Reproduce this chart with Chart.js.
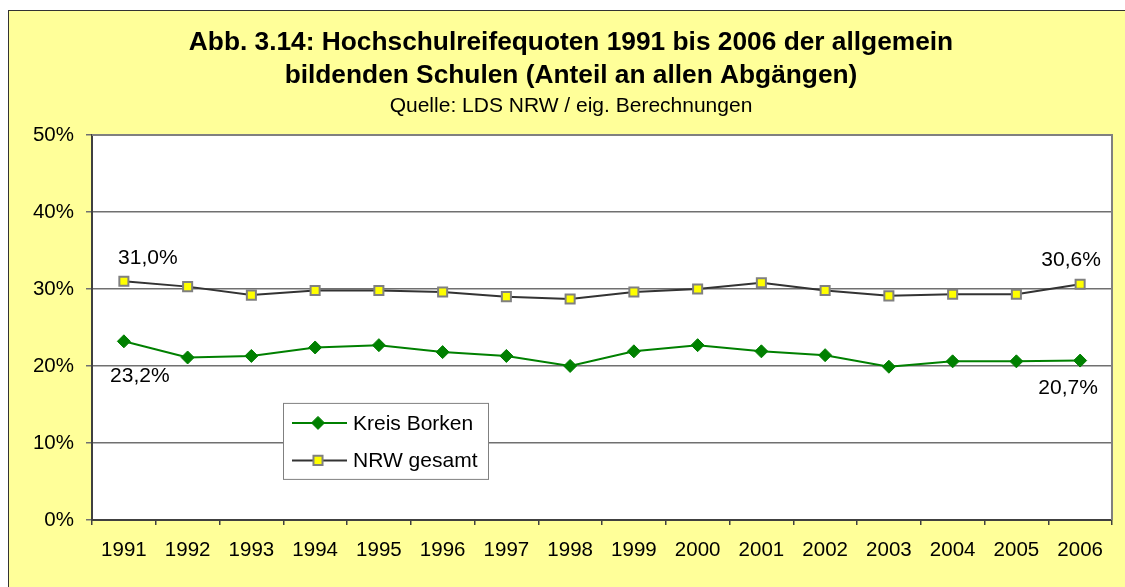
<!doctype html>
<html lang="de">
  <head>
    <meta charset="utf-8">
    <title>Hochschulreifequoten 1991 bis 2006</title>
    <style>
      html, body { margin: 0; padding: 0; background: #fff; overflow: hidden; }
      .chartBox {
        position: absolute; left: 8px; top: 10px;
        width: 1124px; height: 585px;
        background: #ffff99;
        border-left: 1px solid #333; border-top: 1px solid #333;
      }
      canvas { display: block; }
    </style>
  </head>
  <body>
    <div class="chartBox">
      <canvas id="myChart" width="1124" height="585"></canvas>
    </div>
    <script src="https://cdn.jsdelivr.net/npm/chart.js"></script>
    <script>
      // data (percent)
      const years = ['1991', '1992', '1993', '1994', '1995', '1996', '1997', '1998',
                     '1999', '2000', '2001', '2002', '2003', '2004', '2005', '2006'];
      const kreisBorken = [23.2, 21.1, 21.3, 22.4, 22.7, 21.8, 21.3, 20.0,
                           21.9, 22.7, 21.9, 21.4, 19.9, 20.6, 20.6, 20.7];
      const nrwGesamt = [31.0, 30.3, 29.2, 29.8, 29.8, 29.6, 29.0, 28.7,
                         29.6, 30.0, 30.8, 29.8, 29.1, 29.3, 29.3, 30.6];
      const yTicks = [0, 10, 20, 30, 40, 50];

      const FONT = '"Liberation Sans", Arial, sans-serif';
      Chart.defaults.font.family = FONT;
      Chart.defaults.color = '#000';

      // white plot area + grey frame on top/right
      const plotArea = {
        id: 'plotArea',
        beforeDraw(chart) {
          const { ctx, chartArea: a } = chart;
          ctx.save();
          ctx.fillStyle = '#fff';
          ctx.fillRect(a.left, a.top, a.right - a.left, a.bottom - a.top);
          ctx.restore();
        },
        beforeDatasetsDraw(chart) {
          const { ctx, chartArea: a } = chart;
          ctx.save();
          ctx.strokeStyle = '#808080';
          ctx.lineWidth = 2;
          ctx.beginPath();
          ctx.moveTo(a.left, a.top);
          ctx.lineTo(a.right, a.top);
          ctx.lineTo(a.right, a.bottom);
          ctx.stroke();
          ctx.restore();
        }
      };

      // value labels on first and last points
      const pointLabels = {
        id: 'pointLabels',
        afterDatasetsDraw(chart, args, opts) {
          const ctx = chart.ctx;
          ctx.save();
          ctx.font = '21px ' + FONT;
          ctx.fillStyle = '#000';
          ctx.textAlign = 'center';
          ctx.textBaseline = 'alphabetic';
          opts.items.forEach(it => {
            const el = chart.getDatasetMeta(it.dataset).data[it.index];
            const v = chart.data.datasets[it.dataset].data[it.index];
            ctx.fillText(v.toFixed(1).replace('.', ',') + '%', el.x + it.dx, el.y + it.dy);
          });
          ctx.restore();
        }
      };

      function drawMarker(ctx, ds, x, y) {
        ctx.save();
        ctx.fillStyle = ds.pointBackgroundColor;
        ctx.strokeStyle = ds.pointBorderColor;
        ctx.lineWidth = ds.pointBorderWidth;
        ctx.beginPath();
        const r = ds.pointRadius;
        if (ds.pointStyle === 'rectRot') {
          ctx.moveTo(x, y - r); ctx.lineTo(x + r, y); ctx.lineTo(x, y + r); ctx.lineTo(x - r, y);
        } else {
          const s = r * Math.SQRT1_2;
          ctx.rect(x - s, y - s, 2 * s, 2 * s);
        }
        ctx.closePath();
        ctx.fill();
        ctx.stroke();
        ctx.restore();
      }

      // legend box inside the plot, like the Excel original
      const boxLegend = {
        id: 'boxLegend',
        afterDraw(chart, args, opts) {
          const { ctx, chartArea: a } = chart;
          const left = a.left + opts.x, top = a.top + opts.y;
          ctx.save();
          ctx.fillStyle = '#fff';
          ctx.fillRect(left, top, opts.width, opts.height);
          ctx.strokeStyle = '#808080';
          ctx.lineWidth = 1;
          ctx.strokeRect(left + 0.5, top + 0.5, opts.width, opts.height);
          ctx.font = '21px ' + FONT;
          ctx.textBaseline = 'middle';
          ctx.textAlign = 'left';
          chart.data.datasets.forEach((ds, i) => {
            const y = top + 20 + i * 37.5;
            ctx.strokeStyle = ds.borderColor;
            ctx.lineWidth = ds.borderWidth;
            ctx.beginPath();
            ctx.moveTo(left + 9, y);
            ctx.lineTo(left + 64, y);
            ctx.stroke();
            drawMarker(ctx, ds, left + 35, y);
            ctx.fillStyle = '#000';
            ctx.fillText(ds.label, left + 70, y + 1);
          });
          ctx.restore();
        }
      };

      const data = {
        labels: years,
        datasets: [{
          label: 'Kreis Borken',
          data: kreisBorken,
          borderColor: '#008000',
          borderWidth: 2,
          pointStyle: 'rectRot',
          pointRadius: 6.5,
          pointBackgroundColor: '#008000',
          pointBorderColor: '#008000',
          pointBorderWidth: 1,
          tension: 0
        }, {
          label: 'NRW gesamt',
          data: nrwGesamt,
          borderColor: '#333333',
          borderWidth: 2,
          pointStyle: 'rect',
          pointRadius: 6.4,
          pointBackgroundColor: '#ffff00',
          pointBorderColor: '#808080',
          pointBorderWidth: 2,
          tension: 0
        }]
      };

      const config = {
        type: 'line',
        data,
        plugins: [plotArea, pointLabels, boxLegend],
        options: {
          responsive: false,
          animation: false,
          devicePixelRatio: 1,
          layout: { padding: { left: 21, right: 21, top: 0, bottom: 0 } },
          scales: {
            x: {
              offset: true,
              grid: { offset: true, drawOnChartArea: false, tickLength: 5, color: '#404040', lineWidth: 1.5 },
              border: { display: true, color: '#404040', width: 2 },
              ticks: { font: { size: 20.5 }, padding: 13, maxRotation: 0, autoSkip: false },
              afterFit(scale) { scale.height = 76; }
            },
            y: {
              min: 0,
              max: 50,
              afterBuildTicks(scale) { scale.ticks = yTicks.map(v => ({ value: v })); },
              grid: { color: '#707070', lineWidth: 1.5, tickLength: 6 },
              border: { display: true, color: '#404040', width: 2 },
              ticks: { font: { size: 20.5 }, padding: 12, callback: v => v + '%' },
              afterFit(scale) { scale.width = 62; }
            }
          },
          plugins: {
            legend: { display: false },
            tooltip: { enabled: false },
            title: {
              display: true,
              text: ['Abb. 3.14: Hochschulreifequoten 1991 bis 2006 der allgemein',
                     'bildenden Schulen (Anteil an allen Abgängen)'],
              font: { size: 26.3, weight: 'bold', lineHeight: 1.23 },
              color: '#000',
              padding: { top: 16, bottom: 0 }
            },
            subtitle: {
              display: true,
              text: 'Quelle: LDS NRW / eig. Berechnungen',
              font: { size: 21, lineHeight: 1.2 },
              color: '#000',
              padding: { top: 1.5, bottom: 16.5 }
            },
            pointLabels: {
              items: [
                { dataset: 1, index: 0, dx: 24, dy: -17 },
                { dataset: 0, index: 0, dx: 16, dy: 41 },
                { dataset: 1, index: 15, dx: -9, dy: -18 },
                { dataset: 0, index: 15, dx: -12, dy: 33 }
              ]
            },
            boxLegend: { x: 191, y: 268, width: 205, height: 76 }
          }
        }
      };

      const myChart = new Chart(document.getElementById('myChart'), config);
    </script>
  </body>
</html>
